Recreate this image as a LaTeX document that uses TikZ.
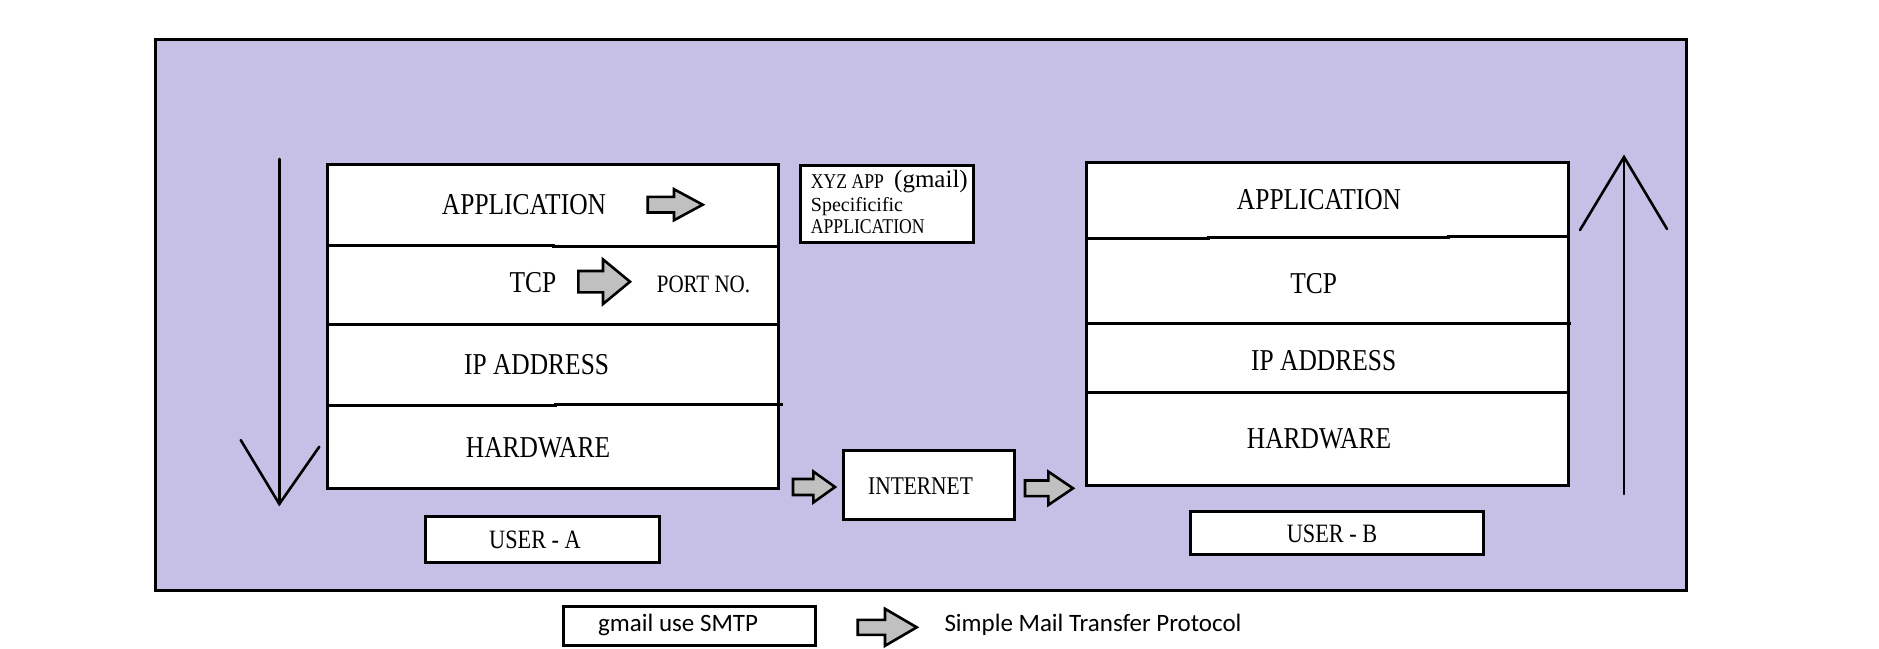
\documentclass[tikz,border=0pt]{standalone}
\usepackage{fontspec}
\setmainfont{Liberation Serif}[FakeStretch=0.84]
\newfontfamily\serifwide{Liberation Serif}
\newfontfamily\calibrifont{Carlito}
\definecolor{bgpurple}{RGB}{198,192,230}
\definecolor{arrowgray}{RGB}{192,192,192}
\newcommand{\blockarr}[6]{%
  \draw[blockarrow] ({#1},{#4-#5}) -- ({#3},{#4-#5}) -- ({#3},{#4-#6}) -- ({#2},{#4})
    -- ({#3},{#4+#6}) -- ({#3},{#4+#5}) -- ({#1},{#4+#5}) -- cycle;}
\begin{document}
\begin{tikzpicture}[x=1pt,y=-1pt,
  frame/.style={line width=3pt,draw=black},
  layerline/.style={line width=3pt,draw=black},
  bigarrow/.style={line width=2.6pt,draw=black,line cap=round},
  blockarrow/.style={line width=2.6pt,draw=black,fill=arrowgray,line join=miter},
  bigtxt/.style={inner sep=0pt,anchor=base,font=\fontsize{30.3}{33}\selectfont},
  midtxt/.style={inner sep=0pt,anchor=base,font=\fontsize{26.5}{30}\selectfont},
  smalltxt/.style={inner sep=0pt,anchor=base west,font=\fontsize{21}{24}\selectfont},
  sanstxt/.style={inner sep=0pt,anchor=base west,font=\calibrifont\fontsize{25}{28}\selectfont}]
\useasboundingbox[fill=white] (0,0) rectangle (1879,648);
% background panel
\draw[frame,fill=bgpurple] (155.5,39.5) rectangle (1686.5,590.5);
% left stack
\draw[layerline,fill=white] (327,164) rectangle (778.3,488);
\draw[layerline] (327,245) -- (553,245) -- (553,246.7) -- (778.3,246.7);
\draw[layerline] (327,324) -- (778.3,324);
\draw[layerline] (327,405.7) -- (555,405.7) -- (555,404.3) -- (782.7,404.3);
% right stack
\draw[layerline,fill=white] (1086.7,162.7) rectangle (1568.3,485);
\draw[layerline] (1086.7,238.3) -- (1208,238.3) -- (1208,237.3) -- (1448,237.3) -- (1448,236.3) -- (1568.3,236.3);
\draw[layerline] (1086.7,323.3) -- (1570.7,323.3);
\draw[layerline] (1086.7,392.3) -- (1568.3,392.3);
% small boxes
\draw[frame,fill=white] (800.7,165) rectangle (973,242.7);
\draw[frame,fill=white] (843,450) rectangle (1014,519);
\draw[frame,fill=white] (425,516.7) rectangle (659,562.7);
\draw[frame,fill=white] (1190,511) rectangle (1483.3,554);
\draw[frame,fill=white] (563.3,606.7) rectangle (815.7,645.7);
% big direction arrows
\coordinate (ldtop) at (279.3,159);
\coordinate (ldtip) at (279.3,504);
\coordinate (ldl) at (240.7,440);
\coordinate (ldr) at (319.3,446.7);
\draw[bigarrow] (ldtop) -- (ldtip);
\draw[bigarrow] (ldl) -- (ldtip) -- (ldr);
\coordinate (rubot) at (1624,494);
\coordinate (rutip) at (1624,157);
\coordinate (rul) at (1580,230);
\coordinate (rur) at (1667,229);
\draw[bigarrow] (rubot) -- (rutip);
\draw[bigarrow] (rul) -- (rutip) -- (rur);
% block arrows
\blockarr{647.7}{702.7}{674}{204.7}{7.8}{15.5}
\blockarr{578.3}{630}{603}{281.7}{10.7}{22.3}
\blockarr{793}{835}{813.3}{487}{8}{15.5}
\blockarr{1025}{1073}{1048.3}{488.3}{7.8}{16.7}
\blockarr{857.7}{916.7}{885}{627.3}{7.5}{18.5}
% texts left stack
\node[bigtxt] (lapp) at (524,214) {APPLICATION};
\node[bigtxt] (ltcp) at (533,292.3) {TCP};
\node[inner sep=0pt,anchor=base west,font=\fontsize{25}{28}\selectfont] (lport) at (656.7,292.7) {PORT NO.};
\node[bigtxt] (lip) at (536.6,374) {IP ADDRESS};
\node[bigtxt] (lhw) at (538,457.3) {HARDWARE};
% texts right stack
\node[bigtxt] (rapp) at (1319,209.3) {APPLICATION};
\node[bigtxt] (rtcp) at (1313.7,293.3) {TCP};
\node[bigtxt] (rip) at (1323.7,370.7) {IP ADDRESS};
\node[bigtxt] (rhw) at (1319,448.3) {HARDWARE};
% xyz box text
\node[smalltxt] (xyz) at (810.7,188.3) {XYZ APP};
\node[inner sep=0pt,anchor=base west,font=\serifwide\fontsize{25}{30}\selectfont] (gm) at (894,187) {(gmail)};
\node[smalltxt,font=\serifwide\fontsize{20}{24}\selectfont] (spec) at (810.7,211.7) {Specificific};
\node[smalltxt] (sapp) at (810.7,233.3) {APPLICATION};
% other labels
\node[midtxt,font=\fontsize{25.5}{30}\selectfont] (inet) at (920.5,494.3) {INTERNET};
\node[midtxt] (ua) at (535,548.3) {USER - A};
\node[midtxt] (ub) at (1332,542.7) {USER - B};
\node[sanstxt] (smtp) at (598,631) {gmail use SMTP};
\node[sanstxt] (proto) at (944.3,631) {Simple Mail Transfer Protocol};
\end{tikzpicture}
\end{document}
